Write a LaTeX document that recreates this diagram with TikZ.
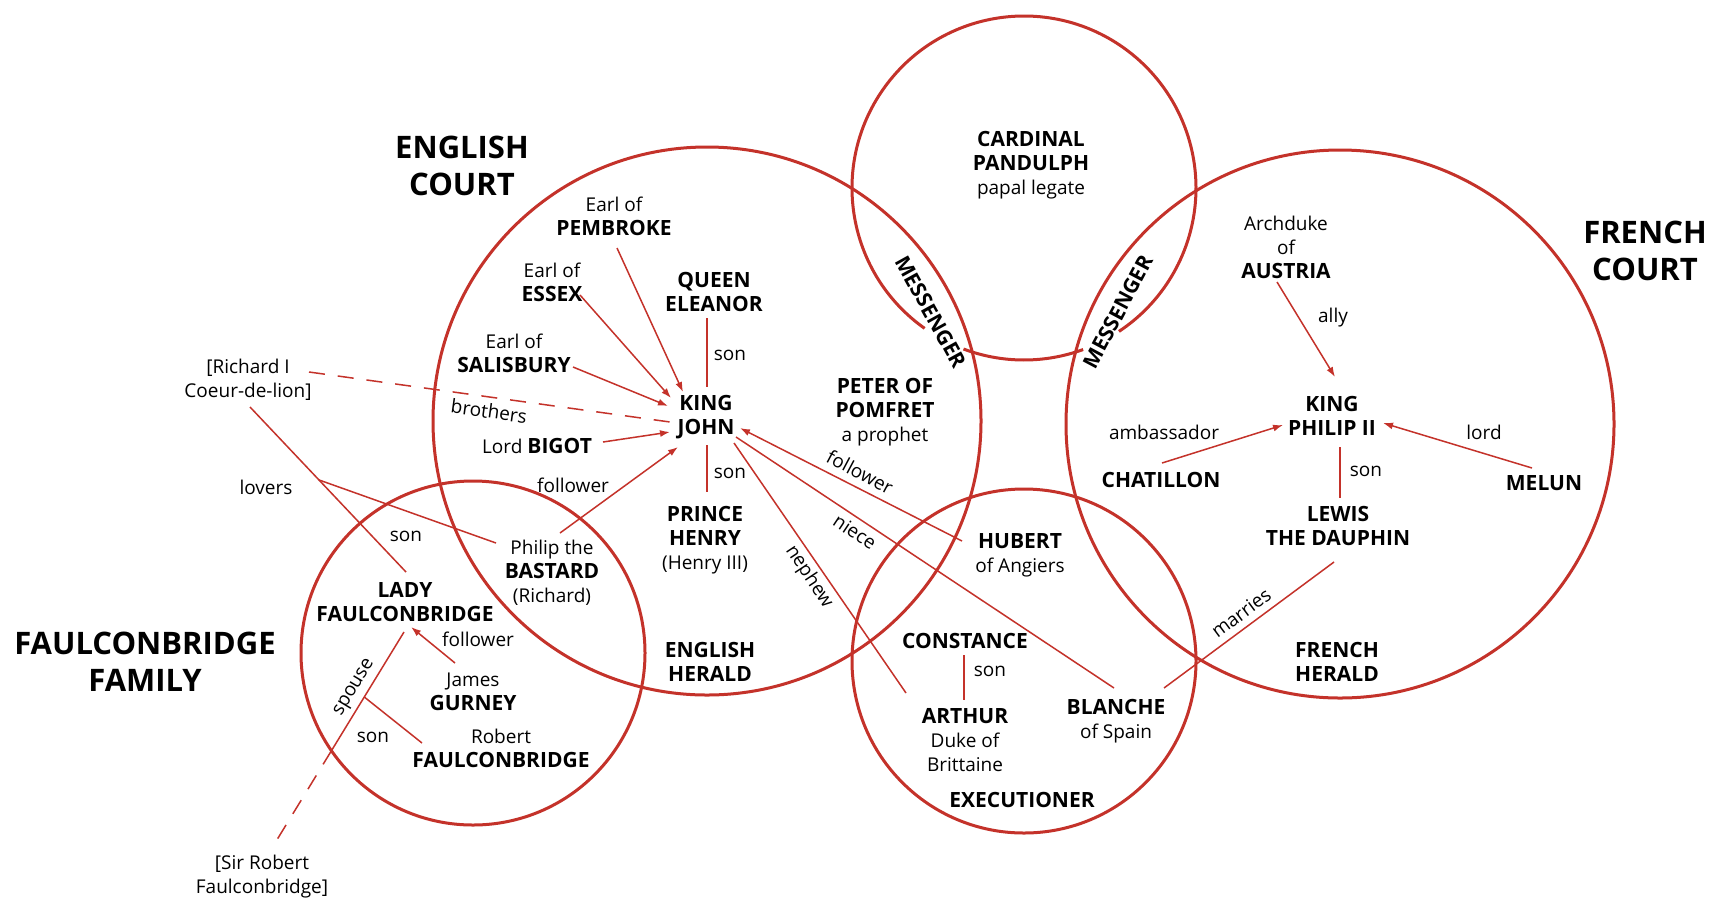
\documentclass[tikz,border=0pt]{standalone}
\usepackage{fontspec}
\setmainfont{Open Sans}
\usetikzlibrary{arrows.meta,calc}
\definecolor{cred}{RGB}{196,50,42}
\newcommand\bb[1]{{\fontsize{21}{24}\selectfont\bfseries #1}}
\begin{document}
\begin{tikzpicture}[x=1pt,y=-1pt,
  lbl/.style={font=\fontsize{19}{24}\selectfont, align=center, inner sep=0pt, text=black},
  ttl/.style={font=\fontsize{31}{37}\selectfont\bfseries, align=center, inner sep=0pt, text=black},
  ring/.style={draw=cred, line width=3pt},
  link/.style={draw=cred, line width=1.5pt},
  arr/.style={link, -{Latex[length=10pt,width=7pt]}},
  dsh/.style={link, dash pattern=on 16pt off 13pt},
]
\useasboundingbox (0,0) rectangle (1728,914);
\fill[white] (0,0) rectangle (1728,914);

% circles
\draw[ring] (707,421) circle[radius=274];
\draw[ring] (1340,424) circle[radius=274];
\draw[ring] (473,653) circle[radius=172];
\draw[ring] (1024,661) circle[radius=172];
\draw[ring] (1024,188) ++(125.3:172) arc[start angle=125.3, end angle=416.5, radius=172];
\draw[ring] (1024,188) ++(69.9:172) arc[start angle=69.9, end angle=110.6, radius=172];

% titles
\node[ttl] (engcourt) at (462,166) {ENGLISH\\COURT};
\node[ttl] (frcourt) at (1645,251) {FRENCH\\COURT};
\node[ttl] (faumily) at (145,662) {FAULCONBRIDGE\\FAMILY};

% people
\node[lbl] (pem) at (614,216) {Earl of\\\bb{PEMBROKE}};
\node[lbl] (essex) at (552,282) {Earl of\\\bb{ESSEX}};
\node[lbl] (salis) at (514,353) {Earl of\\\bb{SALISBURY}};
\node[lbl] (queen) at (714,292) {\bb{QUEEN}\\\bb{ELEANOR}};
\node[lbl] (kj) at (706,417) {\bb{KING}\\\bb{JOHN}};
\node[lbl] (bigot) at (537,446) {Lord \bb{BIGOT}};
\node[lbl] (richard) at (248,380) {[Richard I\\Coeur-de-lion]};
\node[lbl] (peter) at (885,412) {\bb{PETER OF}\\\bb{POMFRET}\\a prophet};
\node[lbl] (prince) at (705,540) {\bb{PRINCE}\\\bb{HENRY}\\(Henry III)};
\node[lbl] (engherald) at (710,662) {\bb{ENGLISH}\\\bb{HERALD}};
\node[lbl] (bastard) at (552,573) {Philip the\\\bb{BASTARD}\\(Richard)};
\node[lbl] (lady) at (405,602) {\bb{LADY}\\\bb{FAULCONBRIDGE}};
\node[lbl] (gurney) at (473,692) {James\\\bb{GURNEY}};
\node[lbl] (robert) at (501,748) {Robert\\\bb{FAULCONBRIDGE}};
\node[lbl] (sirrob) at (262,877) {[Sir Robert\\Faulconbridge]};
\node[lbl] (cardinal) at (1031,165) {\bb{CARDINAL}\\\bb{PANDULPH}\\papal legate};
\node[lbl,rotate=-61] (messA) at (931,312) {\bb{MESSENGER}};
\node[lbl,rotate=62] (messB) at (1118,312) {\bb{MESSENGER}};
\node[lbl] (austria) at (1286,247) {Archduke\\of\\\bb{AUSTRIA}};
\node[lbl] (kp) at (1332,416) {\bb{KING}\\\bb{PHILIP II}};
\node[lbl] (chat) at (1161,480) {\bb{CHATILLON}};
\node[lbl] (melun) at (1544,483) {\bb{MELUN}};
\node[lbl] (lewis) at (1338,526) {\bb{LEWIS}\\\bb{THE DAUPHIN}};
\node[lbl] (frherald) at (1337,662) {\bb{FRENCH}\\\bb{HERALD}};
\node[lbl] (hubert) at (1020,555) {\bb{HUBERT}\\of Angiers};
\node[lbl] (constance) at (965,641) {\bb{CONSTANCE}};
\node[lbl] (arthur) at (965,740) {\bb{ARTHUR}\\Duke of\\Brittaine};
\node[lbl] (blanche) at (1116,721) {\bb{BLANCHE}\\of Spain};
\node[lbl] (exec) at (1022,800) {\bb{EXECUTIONER}};

% relation labels
\node[lbl] (lson1) at (730,355) {son};
\node[lbl] (lson2) at (730,473) {son};
\node[lbl,rotate=-7.9] (lbro) at (489,411) {brothers};
\node[lbl] (lfol1) at (573,485) {follower};
\node[lbl] (llov) at (266,487) {lovers};
\node[lbl] (lson3) at (406,536) {son};
\node[lbl] (lfol2) at (478,639) {follower};
\node[lbl] (lson4) at (373,737) {son};
\node[lbl,rotate=59] (lsp) at (355,688) {spouse};
\node[lbl] (lally) at (1333,318) {ally};
\node[lbl] (lamb) at (1164,432) {ambassador};
\node[lbl] (llord) at (1484,432) {lord};
\node[lbl] (lson5) at (1366,471) {son};
\node[lbl,rotate=36.5] (lmar) at (1241,613) {marries};
\node[lbl,rotate=-28] (lfol3) at (860,472) {follower};
\node[lbl,rotate=-33.6] (lnie) at (855,532) {niece};
\node[lbl,rotate=-56.6] (lnep) at (809,577) {nephew};
\node[lbl] (lson6) at (990,671) {son};

% connectors
\draw[arr] ($(pem)+(3,32)$) -- ($(kj)+(-23,-25)$);
\draw[arr] ($(essex)+(28,13)$) -- ($(kj)+(-35,-19)$);
\draw[arr] ($(salis)+(59,14)$) -- ($(kj)+(-38,-11)$);
\draw[arr] ($(bigot)+(66,-4)$) -- ($(kj)+(-36,15)$);
\draw[arr] ($(bastard)+(8,-40)$) -- ($(kj)+(-28,30)$);
\draw[link] ($(queen)+(-7,26)$) -- ($(kj)+(1,-30)$);
\draw[link] ($(kj)+(1,28)$) -- ($(prince)+(2,-48)$);
\draw[dsh] ($(richard)+(61,-8)$) -- ($(kj)+(-36,5)$);
\draw[arr] ($(hubert)+(-58,-14)$) -- ($(kj)+(34,11)$);
\draw[link] ($(kj)+(30,20)$) -- ($(blanche)+(-2,-33)$);
\draw[link] ($(kj)+(28,26)$) -- ($(arthur)+(-59,-47)$);
\coordinate (rlA) at ($(richard)+(2,27)$);
\coordinate (rlB) at ($(lady)+(1,-30)$);
\draw[link] (rlA) -- (rlB);
\coordinate (lovJ) at ($(rlA)!0.442!(rlB)$);
\draw[link] (lovJ) -- ($(bastard)+(-56,-30)$);
\coordinate (spA) at ($(lady)+(-1,30)$);
\coordinate (spB) at ($(sirrob)+(13,-34)$);
\coordinate (spX) at ($(spA)!0.5625!(spB)$);
\draw[link] (spA) -- (spX);
\draw[dsh] (spX) -- (spB);
\coordinate (sonJ) at ($(spA)!0.308!(spB)$);
\draw[link] (sonJ) -- ($(robert)+(-79,-5)$);
\draw[arr] ($(gurney)+(-18,-29)$) -- ($(lady)+(6,25)$);
\draw[arr] ($(austria)+(-9,35)$) -- ($(kp)+(3,-39)$);
\draw[arr] ($(chat)+(1,-17)$) -- ($(kp)+(-49,9)$);
\draw[arr] ($(melun)+(-12,-15)$) -- ($(kp)+(51,7)$);
\draw[link] ($(kp)+(8,31)$) -- ($(lewis)+(2,-28)$);
\draw[link] ($(lewis)+(-4,36)$) -- ($(blanche)+(48,-33)$);
\draw[link] ($(constance)+(-1,14)$) -- ($(arthur)+(-1,-40)$);
\end{tikzpicture}
\end{document}
